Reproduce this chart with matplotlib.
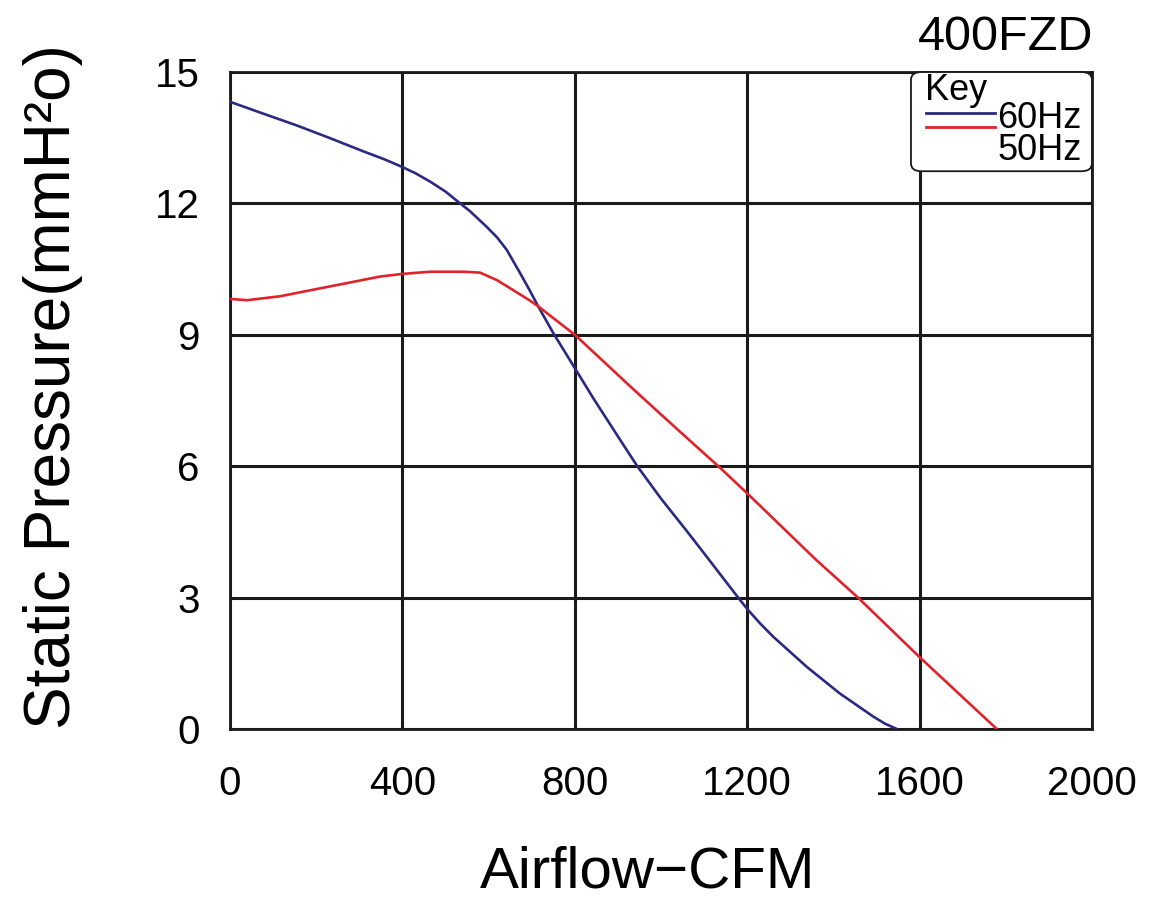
import matplotlib.pyplot as plt
from matplotlib.patches import FancyBboxPatch

plt.rcParams['font.family'] = ['Liberation Sans', 'DejaVu Sans']

# 60Hz curve (blue)
cfm_60 = [0, 77, 155, 232, 309, 360, 400, 430, 464, 500, 534, 557, 595, 620, 642, 673, 695, 715, 750, 800, 843,
          900, 945, 1000, 1059, 1100, 1179, 1200, 1230, 1260, 1338, 1415, 1493, 1520, 1547]
sp_60 = [14.32, 14.05, 13.78, 13.49, 13.19, 13.0, 12.83, 12.69, 12.50, 12.27, 12.0, 11.82, 11.47, 11.22,
         10.94, 10.41, 10.02, 9.65, 9.04, 8.24, 7.55, 6.68, 6.0, 5.26, 4.53, 4.01, 3.0, 2.74, 2.41, 2.11,
         1.42, 0.81, 0.28, 0.12, 0.0]

# 50Hz curve (red)
cfm_50 = [0, 39, 116, 193, 271, 348, 400, 464, 541, 580, 619, 657, 696, 715, 800, 858, 920,
          1000, 1100, 1133, 1200, 1360, 1457, 1600, 1779]
sp_50 = [9.82, 9.79, 9.88, 10.03, 10.18, 10.33, 10.39, 10.44, 10.44, 10.42, 10.25, 10.02, 9.78, 9.65,
         9.0, 8.47, 7.90, 7.18, 6.29, 6.0, 5.38, 3.86, 3.0, 1.64, 0.0]

x_ticks = [0, 400, 800, 1200, 1600, 2000]
y_ticks = [0, 3, 6, 9, 12, 15]

BLUE = '#2b2a80'
RED = '#e0232b'

fig = plt.figure(figsize=(11.56, 9.06), dpi=100)
ax = fig.add_axes([0.199, 0.1954, 0.7456, 0.7251])

ax.plot(cfm_60, sp_60, color=BLUE, linewidth=1.9, zorder=3)
ax.plot(cfm_50, sp_50, color=RED, linewidth=1.9, zorder=3)

ax.set_xlim(0, 2000)
ax.set_ylim(0, 15)
ax.set_xticks(x_ticks)
ax.set_yticks(y_ticks)
ax.grid(True, color='#1a1a1a', linewidth=2.2)
ax.set_axisbelow(True)
for sp in ax.spines.values():
    sp.set_linewidth(2)
    sp.set_color('#1a1a1a')
ax.tick_params(length=0, labelsize=29)
ax.tick_params(axis='y', pad=22)
ax.tick_params(axis='x', pad=26)

fig.text(0.5606, 0.0199, 'Airflow\u2212CFM', fontsize=42, ha='center', va='baseline')
fig.text(0.046, 0.573, 'Static Pressure(mmH\u00b2o)', fontsize=46, rotation=90,
         ha='center', va='center')

fig.text(0.9455, 0.9448, '400FZD', fontsize=35, ha='right', va='baseline')

# legend box drawn by hand
box = FancyBboxPatch((0.79, 0.849), 0.21, 0.151, boxstyle='round,pad=0,rounding_size=0.012',
                     transform=ax.transAxes, facecolor='white', edgecolor='#1a1a1a',
                     linewidth=1.3, zorder=5, clip_on=False)
ax.add_patch(box)
ax.text(0.806, 0.957, 'Key', fontsize=26, transform=ax.transAxes, va='baseline', zorder=6)
ax.plot([0.807, 0.887], [0.938, 0.938], color=BLUE, linewidth=2, transform=ax.transAxes, zorder=6)
ax.plot([0.807, 0.887], [0.916, 0.916], color=RED, linewidth=2, transform=ax.transAxes, zorder=6)
ax.text(0.890, 0.930, '60Hz', fontsize=26, transform=ax.transAxes, va='center', zorder=6)
ax.text(0.890, 0.880, '50Hz', fontsize=26, transform=ax.transAxes, va='center', zorder=6)

fig.savefig('out.png', dpi=100)
